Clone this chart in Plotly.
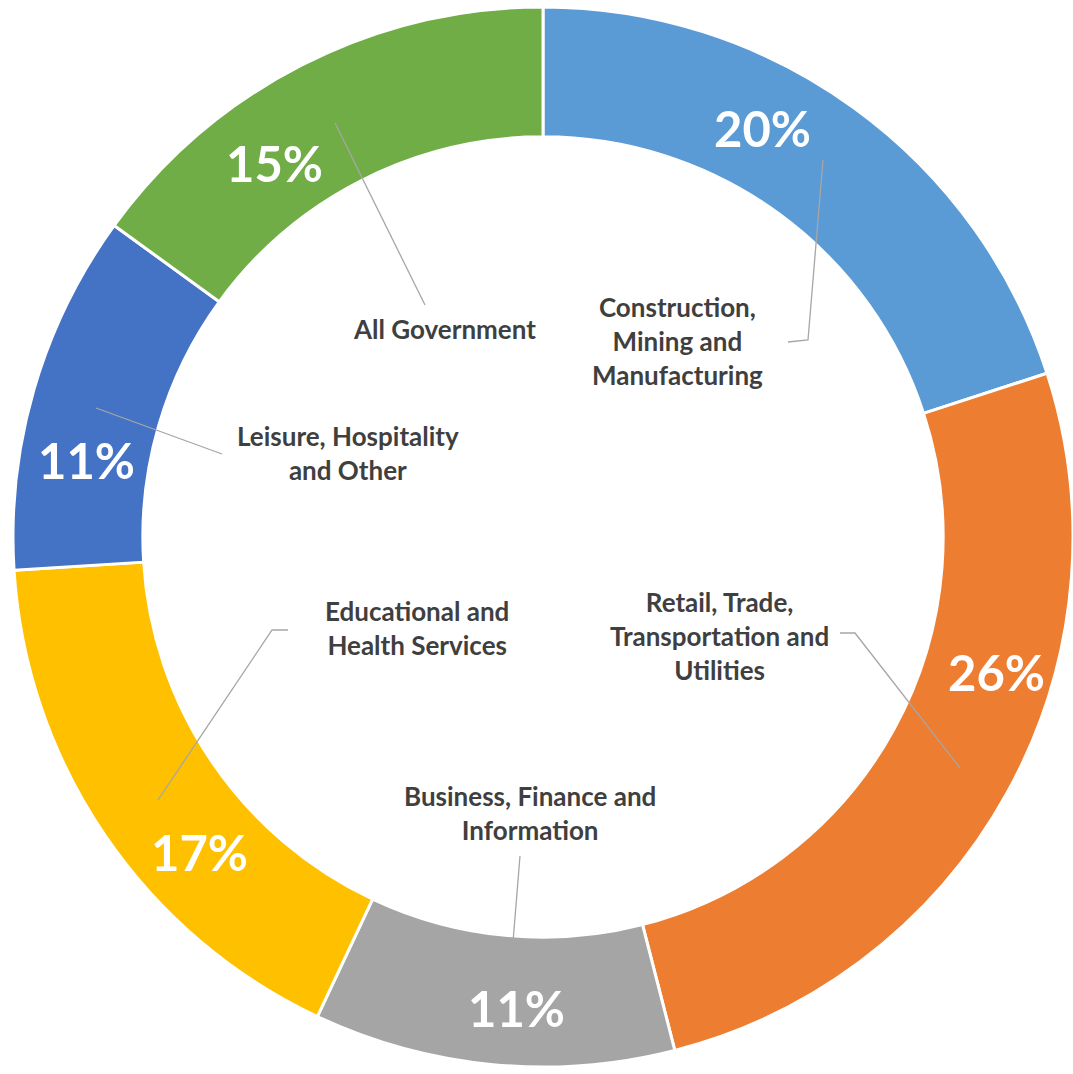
import plotly.graph_objects as go

# Employment share by sector, clockwise from 12 o'clock
sectors = [
    "Construction,<br>Mining and<br>Manufacturing",
    "Retail, Trade,<br>Transportation and<br>Utilities",
    "Business, Finance and<br>Information",
    "Educational and<br>Health Services",
    "Leisure, Hospitality<br>and Other",
    "All Government",
]
shares = [20, 26, 11, 17, 11, 15]
colors = ["#5B9BD5", "#ED7D31", "#A5A5A5", "#FFC000", "#4472C4", "#70AD47"]

W, H = 1073, 1074

# layout helpers (pixel -> paper)
def px(x):
    return x / W

def py(y):
    return 1 - y / H

# ring placement: centre ~ (544, 537), outer radius ~531
cx, cy, r = 544, 537, 531

fig = go.Figure(
    go.Pie(
        values=shares,
        labels=[s.replace("<br>", " ") for s in sectors],
        marker=dict(colors=colors, line=dict(color="white", width=3)),
        hole=0.755,
        sort=False,
        direction="clockwise",
        rotation=0,
        textinfo="none",
        hoverinfo="label+percent",
        domain=dict(x=[px(cx - r), min(1, px(cx + r))], y=[py(cy + r), py(cy - r)]),
        showlegend=False,
    )
)

# positions of percentage labels and category labels (pixels)
pct_pos = [(762, 128), (996, 672), (516, 1008), (199, 852), (86, 460), (274, 163)]
lab_pos = [(677, 341), (719, 636), (530, 813), (417, 628), (348, 453), (444, 329)]
leaders = [
    [(823, 160), (808, 340), (788, 342)],
    [(840, 633), (855, 633), (960, 768)],
    [(513, 942), (520, 856)],
    [(158, 800), (272, 630), (288, 630)],
    [(96, 408), (222, 454)],
    [(335, 123), (425, 305)],
]

annotations = []
for v, (x, y) in zip(shares, pct_pos):
    annotations.append(dict(
        x=px(x), y=py(y), xref="paper", yref="paper", showarrow=False,
        text=f"<b>{v}%</b>", xanchor="center", yanchor="middle",
        font=dict(family="Lato", size=49, color="white"),
    ))
for s, (x, y) in zip(sectors, lab_pos):
    annotations.append(dict(
        x=px(x), y=py(y), xref="paper", yref="paper", showarrow=False,
        text=f"<b>{s}</b>", xanchor="center", yanchor="middle", align="center",
        font=dict(family="Lato", size=26, color="#3F3F3F"),
    ))

shapes = []
for pts in leaders:
    path = "M " + " L ".join(f"{px(x)},{py(y)}" for x, y in pts)
    shapes.append(dict(type="path", path=path, xref="paper", yref="paper",
                       line=dict(color="#A6A6A6", width=1.3)))

fig.update_layout(
    width=W, height=H,
    margin=dict(l=0, r=0, t=0, b=0),
    paper_bgcolor="white", plot_bgcolor="white",
    annotations=annotations, shapes=shapes,
)

fig.write_html("out.html")
